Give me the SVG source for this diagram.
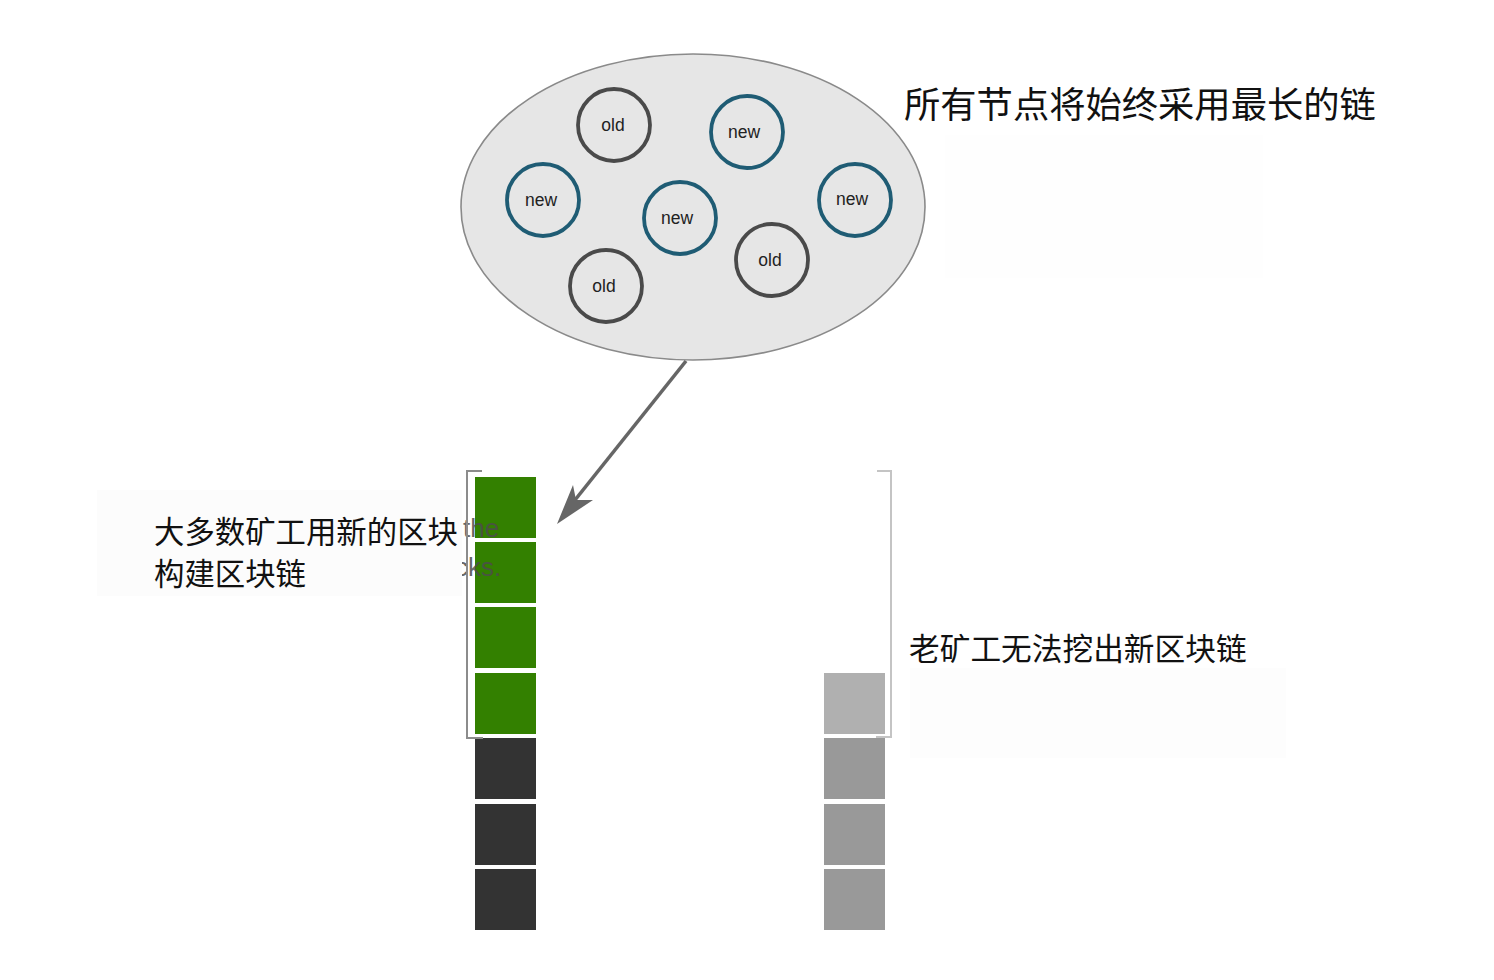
<svg xmlns="http://www.w3.org/2000/svg" width="1494" height="980" viewBox="0 0 1494 980">
<style>
  .lat { font-family: "Liberation Sans", Arial, sans-serif; font-size: 17.5px; fill: #222; text-anchor: middle; }
  .cjk { font-family: "Noto Sans CJK SC", "Noto Sans", sans-serif; fill: #111; }
  .old { fill: none; stroke: #4a4a4a; stroke-width: 3.8; }
  .new { fill: none; stroke: #1f5c74; stroke-width: 3.8; }
  .green { fill: #338000; }
  .dark { fill: #333333; }
  .grey { fill: #999999; }
</style>
<rect width="1494" height="980" fill="#ffffff"/>

<!-- faint text boxes -->
<rect x="945" y="135" width="318" height="143" fill="#fefefe"/>
<rect x="910" y="668" width="376" height="90" fill="#fdfdfd"/>

<g id="network">
  <ellipse cx="693" cy="207" rx="232" ry="153" fill="#e6e6e6" stroke="#8a8a8a" stroke-width="1.6"/>
  <g id="node-old-1"><circle class="old" cx="614" cy="125" r="36"/><text class="lat" x="613" y="131">old</text></g>
  <g id="node-new-1"><circle class="new" cx="747" cy="132" r="36"/><text class="lat" x="744" y="138">new</text></g>
  <g id="node-new-2"><circle class="new" cx="543" cy="200" r="36"/><text class="lat" x="541" y="206">new</text></g>
  <g id="node-new-3"><circle class="new" cx="680" cy="218" r="36"/><text class="lat" x="677" y="224">new</text></g>
  <g id="node-new-4"><circle class="new" cx="855" cy="200" r="36"/><text class="lat" x="852" y="205">new</text></g>
  <g id="node-old-2"><circle class="old" cx="772" cy="260" r="36"/><text class="lat" x="770" y="266">old</text></g>
  <g id="node-old-3"><circle class="old" cx="606" cy="286" r="36"/><text class="lat" x="604" y="292">old</text></g>
</g>

<text class="cjk" x="904" y="118" font-size="36.3">所有节点将始终采用最长的链</text>

<g id="chain-new">
  <rect class="green" x="475" y="477" width="61" height="61"/>
  <rect class="green" x="475" y="542" width="61" height="61"/>
  <rect class="green" x="475" y="607" width="61" height="61"/>
  <rect class="green" x="475" y="673" width="61" height="61"/>
  <rect class="dark" x="475" y="738" width="61" height="61"/>
  <rect class="dark" x="475" y="804" width="61" height="61"/>
  <rect class="dark" x="475" y="869" width="61" height="61"/>
</g>

<g id="chain-old">
  <rect x="824" y="673" width="61" height="61" fill="#b0b0b0"/>
  <rect class="grey" x="824" y="738" width="61" height="61"/>
  <rect class="grey" x="824" y="804" width="61" height="61"/>
  <rect class="grey" x="824" y="869" width="61" height="61"/>
</g>

<!-- residual grey text -->
<g font-family="Liberation Sans, Arial, sans-serif" font-size="26" fill="#4d4d4d" opacity="0.85">
  <text x="463" y="537">the</text>
  <text x="455" y="576">cks.</text>
</g>

<g id="label-new">
  <rect x="97" y="490" width="365" height="106" fill="#fcfcfc"/>
  <text class="cjk" x="154" y="543" font-size="30.4">大多数矿工用新的区块</text>
  <text class="cjk" x="154" y="585" font-size="30.4">构建区块链</text>
</g>

<g id="brackets" fill="none" stroke-width="2">
  <polyline points="482,471 467,471 467,738 483,738" stroke="#8c8c8c"/>
  <polyline points="877,471 891,471 891,737 876,737" stroke="#c4c4c4"/>
</g>

<text class="cjk" x="909" y="660" font-size="30.7">老矿工无法挖出新区块链</text>

<g id="connectors">
  <line x1="686" y1="361" x2="575" y2="500" stroke="#666" stroke-width="3.6"/>
  <polygon points="557,524 573,485 576,500 593,500" fill="#666"/>
</g>
</svg>
